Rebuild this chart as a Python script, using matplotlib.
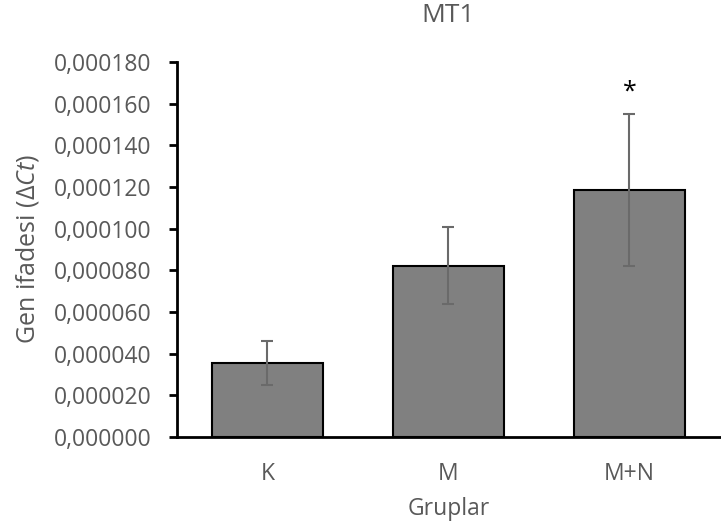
import matplotlib
matplotlib.use("Agg")
import matplotlib.pyplot as plt
from matplotlib.ticker import FuncFormatter, MultipleLocator

# Gene expression (delta Ct) per group, with error bar half-widths
groups = ["K", "M", "M+N"]
means = [0.0000354, 0.0000822, 0.0001185]
errors = [0.0000105, 0.0000185, 0.0000365]
significant = [False, False, True]

TEXT_GREY = "#595959"

plt.rcParams["font.family"] = ["Open Sans", "DejaVu Sans"]
plt.rcParams["mathtext.fontset"] = "custom"
plt.rcParams["mathtext.it"] = "Open Sans:italic"
plt.rcParams["mathtext.rm"] = "Open Sans"

fig = plt.figure(figsize=(7.21, 5.30), dpi=100)
ax = fig.add_axes([0.2455, 0.1755, 0.753, 0.7075])

x = list(range(len(groups)))
ax.bar(x, means, width=0.61, color="#808080", edgecolor="black", linewidth=1.5, zorder=2)
ax.errorbar(x, means, yerr=errors, fmt="none", ecolor="#6a6a6a",
            elinewidth=1.5, capsize=4.5, capthick=1.5, zorder=3)

for xi, m, e, sig in zip(x, means, errors, significant):
    if sig:
        ax.text(xi, m + e + 0.0000045, "*", ha="center", va="bottom",
                fontsize=18, color="black")

ax.set_xlim(-0.5, 2.5)
ax.set_ylim(0, 0.00018)
ax.yaxis.set_major_locator(MultipleLocator(0.00002))
ax.yaxis.set_major_formatter(FuncFormatter(lambda v, p: f"{v:.6f}".replace(".", ",")))
ax.set_xticks(x)
ax.set_xticklabels(groups)

for side in ["top", "right"]:
    ax.spines[side].set_visible(False)
for side in ["left", "bottom"]:
    ax.spines[side].set_linewidth(2)
    ax.spines[side].set_color("black")

ax.tick_params(axis="y", direction="out", length=5.5, width=2, color="black",
               labelsize=16.5, labelcolor=TEXT_GREY, pad=13)
ax.tick_params(axis="x", length=0, labelsize=16.5, labelcolor=TEXT_GREY, pad=18)

ax.set_ylabel(r"Gen ifadesi ($\mathit{ΔCt}$)", fontsize=18, color=TEXT_GREY, labelpad=9)
ax.set_xlabel("Gruplar", fontsize=16.5, color=TEXT_GREY, labelpad=8)
ax.set_title("MT1", fontsize=19, color=TEXT_GREY, pad=29)

fig.savefig("out.png", dpi=100)
